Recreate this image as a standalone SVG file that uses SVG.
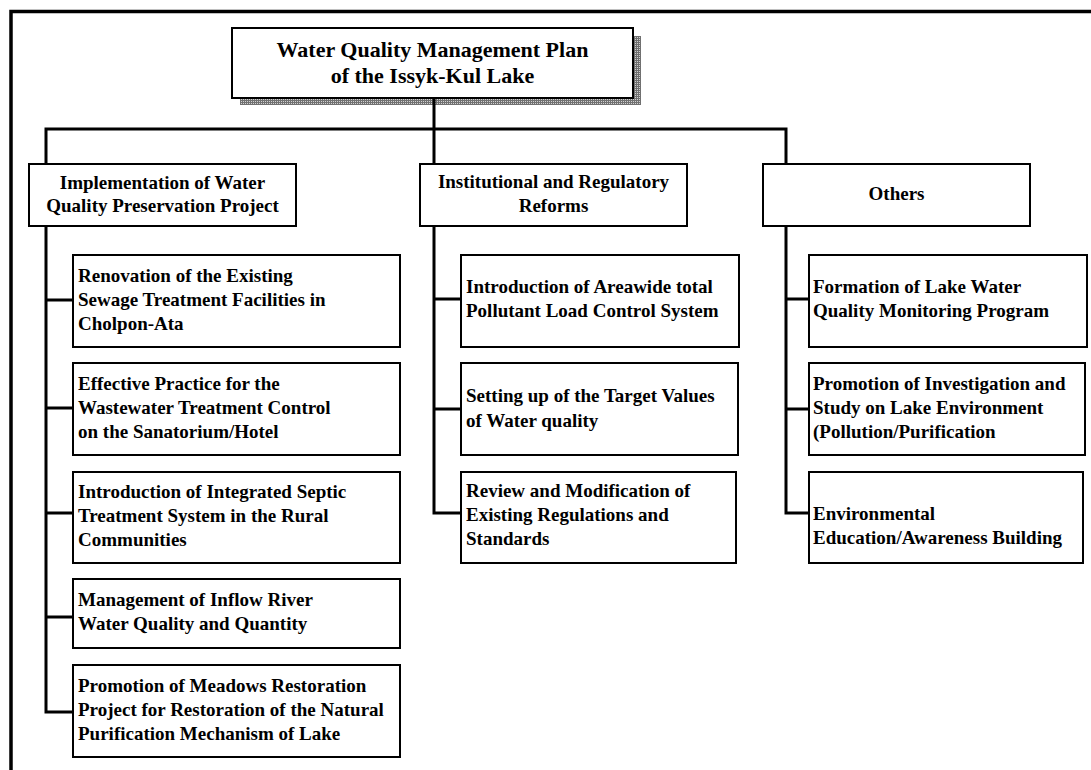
<svg xmlns="http://www.w3.org/2000/svg" width="1091" height="770" viewBox="0 0 1091 770">
  <style>
    .frame { fill: none; stroke: #000; stroke-width: 3.5; }
    .box { fill: #fff; stroke: #000; stroke-width: 2; }
    .link { fill: none; stroke: #000; stroke-width: 3; }
    text { font-family: "Liberation Serif", "Times New Roman", serif; font-weight: bold; fill: #000; }
    .title { font-size: 22px; text-anchor: middle; }
    .head { font-size: 19px; text-anchor: middle; }
    .item { font-size: 19px; }
  </style>
  <defs>
    <!-- fine cross-hatch used for the drop shadow of the title box -->
    <pattern id="hatch" width="2" height="2" patternUnits="userSpaceOnUse">
      <rect width="2" height="2" fill="#d0d0d0"/>
      <rect width="2" height="1" fill="#707070"/>
      <rect width="1" height="2" fill="#707070"/>
    </pattern>
  </defs>

  <rect width="1091" height="770" fill="#fff"/>

  <!-- outer frame (top and left edges) -->
  <path class="frame" d="M11 770 V11.5 H1091"/>

  <!-- title -->
  <g id="title">
    <path d="M240 98 H633 V36 H641 V105 H240 Z" fill="url(#hatch)"/>
    <rect class="box" x="232" y="28" width="401" height="70"/>
    <text class="title" x="432.5" y="57">Water Quality Management Plan</text>
    <text class="title" x="432.5" y="83">of the Issyk-Kul Lake</text>
  </g>

  <!-- connectors -->
  <g id="connectors">
    <path class="link" d="M434 98 V164 M46 164 V129 H786 V164"/>
    <path class="link" d="M46 226 V712 H73 M46 300 H73 M46 408 H73 M46 513 H73 M46 617 H73"/>
    <path class="link" d="M434 226 V513 H461 M434 299 H461 M434 409 H461"/>
    <path class="link" d="M786 226 V513 H809 M786 299 H809 M786 409 H809"/>
  </g>

  <!-- column 1 -->
  <g id="implementation">
    <rect class="box" x="29" y="164" width="267" height="62"/>
    <text class="head" x="162.5" y="189">Implementation of Water</text>
    <text class="head" x="162.5" y="212">Quality Preservation Project</text>
  </g>
  <g id="renovation">
    <rect class="box" x="73" y="255" width="327" height="92"/>
    <text class="item" x="78" y="282">Renovation of the Existing</text>
    <text class="item" x="78" y="306">Sewage Treatment Facilities in</text>
    <text class="item" x="78" y="330">Cholpon-Ata</text>
  </g>
  <g id="effective-practice">
    <rect class="box" x="73" y="363" width="327" height="92"/>
    <text class="item" x="78" y="390">Effective Practice for the</text>
    <text class="item" x="78" y="414">Wastewater Treatment Control</text>
    <text class="item" x="78" y="438">on the Sanatorium/Hotel</text>
  </g>
  <g id="septic">
    <rect class="box" x="73" y="472" width="327" height="91"/>
    <text class="item" x="78" y="498">Introduction of Integrated Septic</text>
    <text class="item" x="78" y="522">Treatment System in the Rural</text>
    <text class="item" x="78" y="546">Communities</text>
  </g>
  <g id="inflow-river">
    <rect class="box" x="73" y="579" width="327" height="69"/>
    <text class="item" x="78" y="606">Management of Inflow River</text>
    <text class="item" x="78" y="630">Water Quality and Quantity</text>
  </g>
  <g id="meadows">
    <rect class="box" x="73" y="665" width="327" height="92"/>
    <text class="item" x="78" y="692">Promotion of Meadows Restoration</text>
    <text class="item" x="78" y="716">Project for Restoration of the Natural</text>
    <text class="item" x="78" y="740">Purification Mechanism of Lake</text>
  </g>

  <!-- column 2 -->
  <g id="institutional">
    <rect class="box" x="420" y="164" width="267" height="62"/>
    <text class="head" x="553.5" y="188">Institutional and Regulatory</text>
    <text class="head" x="553.5" y="212">Reforms</text>
  </g>
  <g id="pollutant-load">
    <rect class="box" x="461" y="255" width="278" height="92"/>
    <text class="item" x="466" y="293">Introduction of Areawide total</text>
    <text class="item" x="466" y="317">Pollutant Load Control System</text>
  </g>
  <g id="target-values">
    <rect class="box" x="461" y="363" width="277" height="92"/>
    <text class="item" x="466" y="402">Setting up of the Target Values</text>
    <text class="item" x="466" y="427">of Water quality</text>
  </g>
  <g id="regulations">
    <rect class="box" x="461" y="472" width="275" height="91"/>
    <text class="item" x="466" y="497">Review and Modification of</text>
    <text class="item" x="466" y="521">Existing Regulations and</text>
    <text class="item" x="466" y="545">Standards</text>
  </g>

  <!-- column 3 -->
  <g id="others">
    <rect class="box" x="763" y="164" width="267" height="62"/>
    <text class="head" x="896.5" y="200">Others</text>
  </g>
  <g id="monitoring">
    <rect class="box" x="809" y="255" width="278" height="92"/>
    <text class="item" x="813" y="293">Formation of Lake Water</text>
    <text class="item" x="813" y="317">Quality Monitoring Program</text>
  </g>
  <g id="investigation">
    <rect class="box" x="809" y="363" width="276" height="92"/>
    <text class="item" x="813" y="390">Promotion of Investigation and</text>
    <text class="item" x="813" y="414">Study on Lake Environment</text>
    <text class="item" x="813" y="438">(Pollution/Purification</text>
  </g>
  <g id="education">
    <rect class="box" x="809" y="472" width="274" height="91"/>
    <text class="item" x="813" y="520">Environmental</text>
    <text class="item" x="813" y="544">Education/Awareness Building</text>
  </g>
</svg>
